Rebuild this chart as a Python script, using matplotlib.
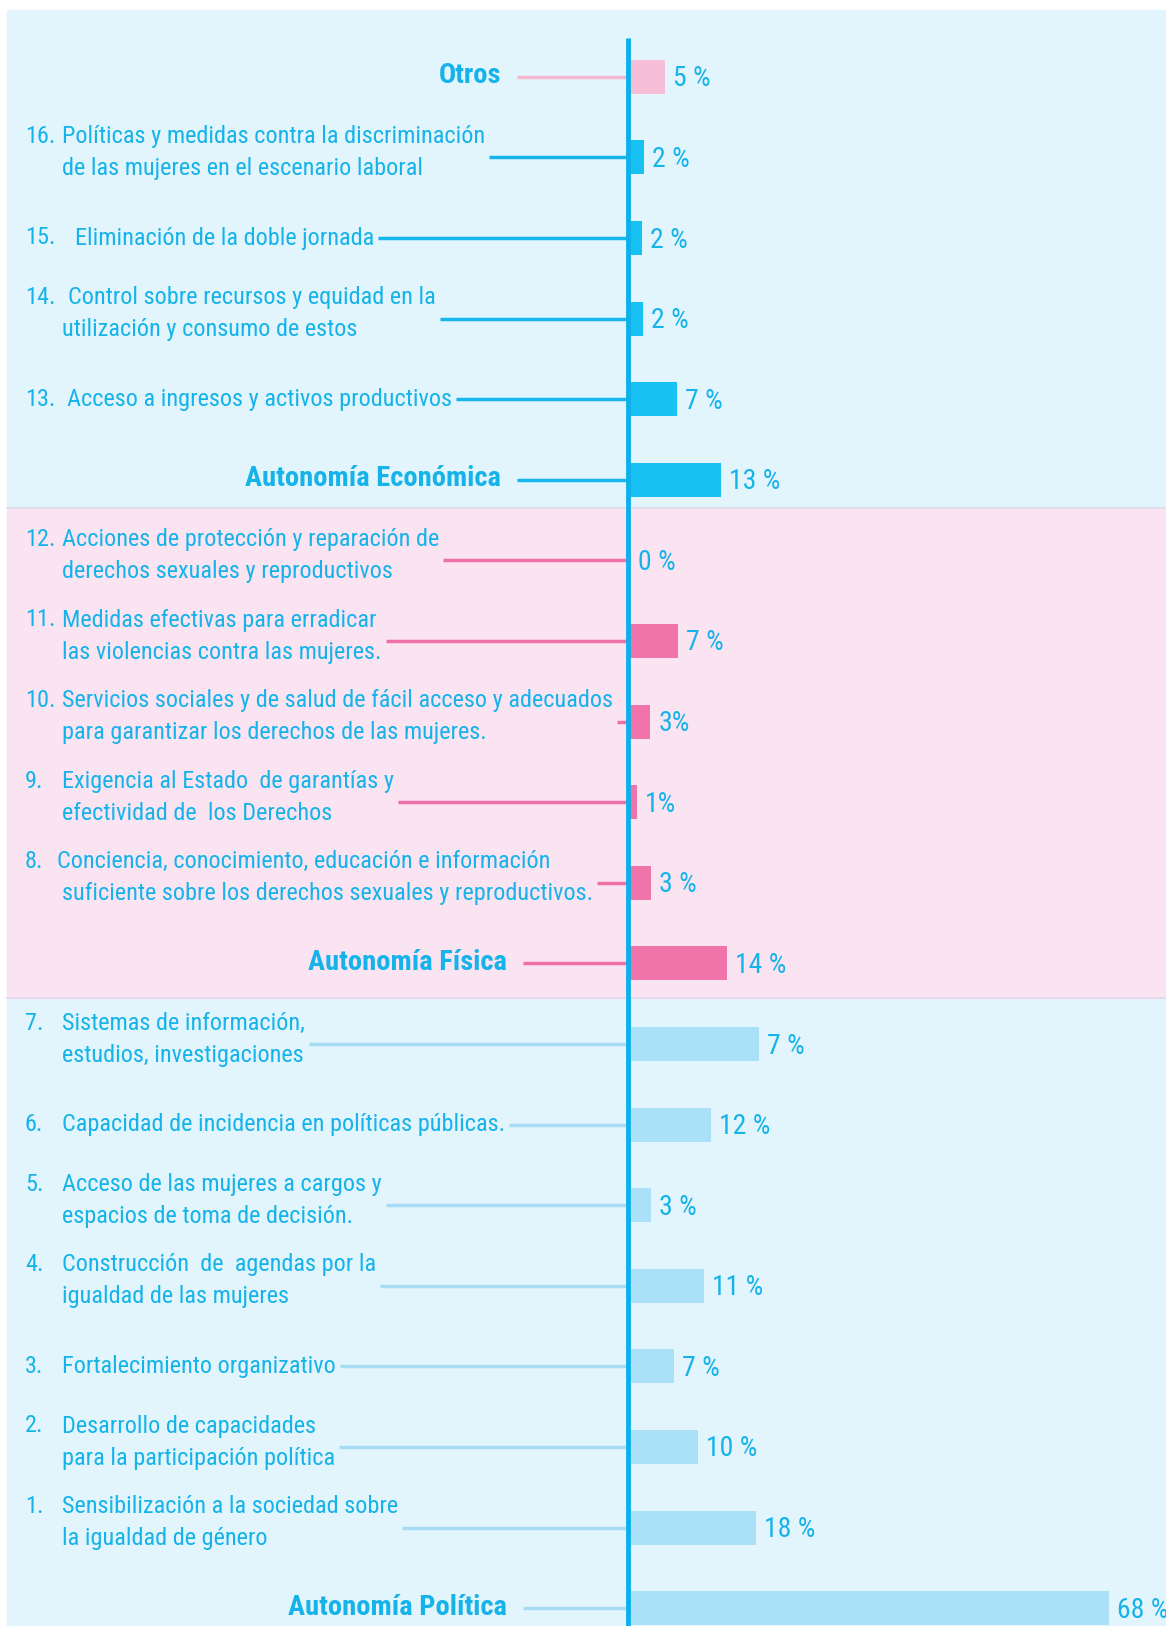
import matplotlib
matplotlib.use("Agg")
import matplotlib.pyplot as plt
from matplotlib import font_manager

# --- data, top to bottom ---
kinds = ["otros", "econ", "econ", "econ", "econ", "econ_h",
         "fis", "fis", "fis", "fis", "fis", "fis_h",
         "pol", "pol", "pol", "pol", "pol", "pol", "pol", "pol_h"]
numbers = ["", "16.", "15.", "14.", "13.", "",
           "12.", "11.", "10.", "9.", "8.", "",
           "7.", "6.", "5.", "4.", "3.", "2.", "1.", ""]
label_lines = [
    ["Otros"],
    ["Políticas y medidas contra la discriminación", "de las mujeres en el escenario laboral"],
    ["Eliminación de la doble jornada"],
    ["Control sobre recursos y equidad en la", "utilización y consumo de estos"],
    ["Acceso a ingresos y activos productivos"],
    ["Autonomía Económica"],
    ["Acciones de protección y reparación de", "derechos sexuales y reproductivos"],
    ["Medidas efectivas para erradicar", "las violencias contra las mujeres."],
    ["Servicios sociales y de salud de fácil acceso y adecuados", "para garantizar los derechos de las mujeres."],
    ["Exigencia al Estado  de garantías y", "efectividad de  los Derechos"],
    ["Conciencia, conocimiento, educación e información", "suficiente sobre los derechos sexuales y reproductivos."],
    ["Autonomía Física"],
    ["Sistemas de información,", "estudios, investigaciones"],
    ["Capacidad de incidencia en políticas públicas."],
    ["Acceso de las mujeres a cargos y", "espacios de toma de decisión."],
    ["Construcción  de  agendas por la", "igualdad de las mujeres"],
    ["Fortalecimiento organizativo"],
    ["Desarrollo de capacidades", "para la participación política"],
    ["Sensibilización a la sociedad sobre", "la igualdad de género"],
    ["Autonomía Política"],
]
pct_labels = ["5 %", "2 %", "2 %", "2 %", "7 %", "13 %",
              "0 %", "7 %", "3%", "1%", "3 %", "14 %",
              "7 %", "12 %", "3 %", "11 %", "7 %", "10 %", "18 %", "68 %"]
# bar lengths as drawn in the original (percent units)
bar_drawn = [5, 2, 1.7, 1.8, 6.7, 12.9,
             0, 6.8, 2.9, 1, 3, 13.8,
             18.3, 11.5, 3, 10.5, 6.2, 9.6, 17.9, 68]

bar_colors = {"otros": "#f7bed7", "econ": "#17c1f2", "econ_h": "#17c1f2",
              "fis": "#f073a9", "fis_h": "#f073a9", "pol": "#abe0f9", "pol_h": "#abe0f9"}
line_colors = {"otros": "#f5b8d1", "econ": "#14b6ec", "econ_h": "#14b6ec",
               "fis": "#ef6fa7", "fis_h": "#ef6fa7", "pol": "#a6dcf5", "pol_h": "#a6dcf5"}
TEXT = "#15b3ea"

avail = {f.name for f in font_manager.fontManager.ttflist}
font = next((f for f in ["Liberation Sans Narrow", "Roboto Condensed", "DejaVu Sans Condensed",
                         "Liberation Sans"] if f in avail), "DejaVu Sans")
plt.rcParams["font.family"] = [font, "DejaVu Sans"]

W, H = 1166, 1626
fig = plt.figure(figsize=(W / 100, H / 100), dpi=100, facecolor="white")
ax = fig.add_axes([0, 0, 1, 1])
ax.set_xlim(0, W)
ax.set_ylim(H, 0)
ax.axis("off")

# layout constants (pixels)
row0, step = 76.8, 80.6
axis_x = 628
px_per_pct = 7.04
rows = [row0 + step * i for i in range(len(kinds))]
# small extra indents of the text body after some numbers
body_x = {2: 75, 3: 68, 4: 67, 10: 57}
header_right = {"otros": 501, "econ_h": 501, "fis_h": 507, "pol_h": 507}

# backgrounds
ax.add_patch(plt.Rectangle((7, 10), W, H, color="#e3f5fc", zorder=0))
ax.add_patch(plt.Rectangle((7, 508), W, 490, color="#fbe4f2", zorder=0))
for yb in (508, 998):
    ax.plot([7, W], [yb, yb], color="#e0d8ee", lw=1.2, zorder=0.5)

# bars
ax.barh(rows, [v * px_per_pct for v in bar_drawn], left=axis_x + 2, height=34,
        color=[bar_colors[k] for k in kinds], zorder=2)

fig.canvas.draw()
r = fig.canvas.get_renderer()
inv = ax.transData.inverted()

for i, k in enumerate(kinds):
    y = rows[i]
    if k in header_right:
        ax.text(header_right[k], y - 1, label_lines[i][0], ha="right", va="center",
                fontsize=20.5, fontweight="bold", color=TEXT)
        start = header_right[k] + 16
    else:
        lines = label_lines[i]
        offs = [0] if len(lines) == 1 else [-21, 11]
        ax.text(25, y + offs[0], numbers[i], ha="left", va="center", fontsize=17.5, color=TEXT)
        right = 0
        for j, (ln, off) in enumerate(zip(lines, offs)):
            x0 = body_x.get(i, 62) if j == 0 else 62
            t = ax.text(x0, y + off, ln, ha="left", va="center", fontsize=17.5, color=TEXT)
            bb = t.get_window_extent(r)
            right = max(right, inv.transform((bb.x1, 0))[0])
        start = right + 4
    ax.plot([start, axis_x], [y, y], color=line_colors[k], lw=2.5, zorder=1, solid_capstyle="butt")
    ax.text(axis_x + bar_drawn[i] * px_per_pct + 10, y + 2, pct_labels[i], ha="left", va="center",
            fontsize=20, color=TEXT, zorder=3)

# vertical axis line
ax.plot([axis_x, axis_x], [38, H], color="#0db0ea", lw=3.5, zorder=4, solid_capstyle="butt")

fig.savefig("out.png", dpi=100, facecolor="white")
